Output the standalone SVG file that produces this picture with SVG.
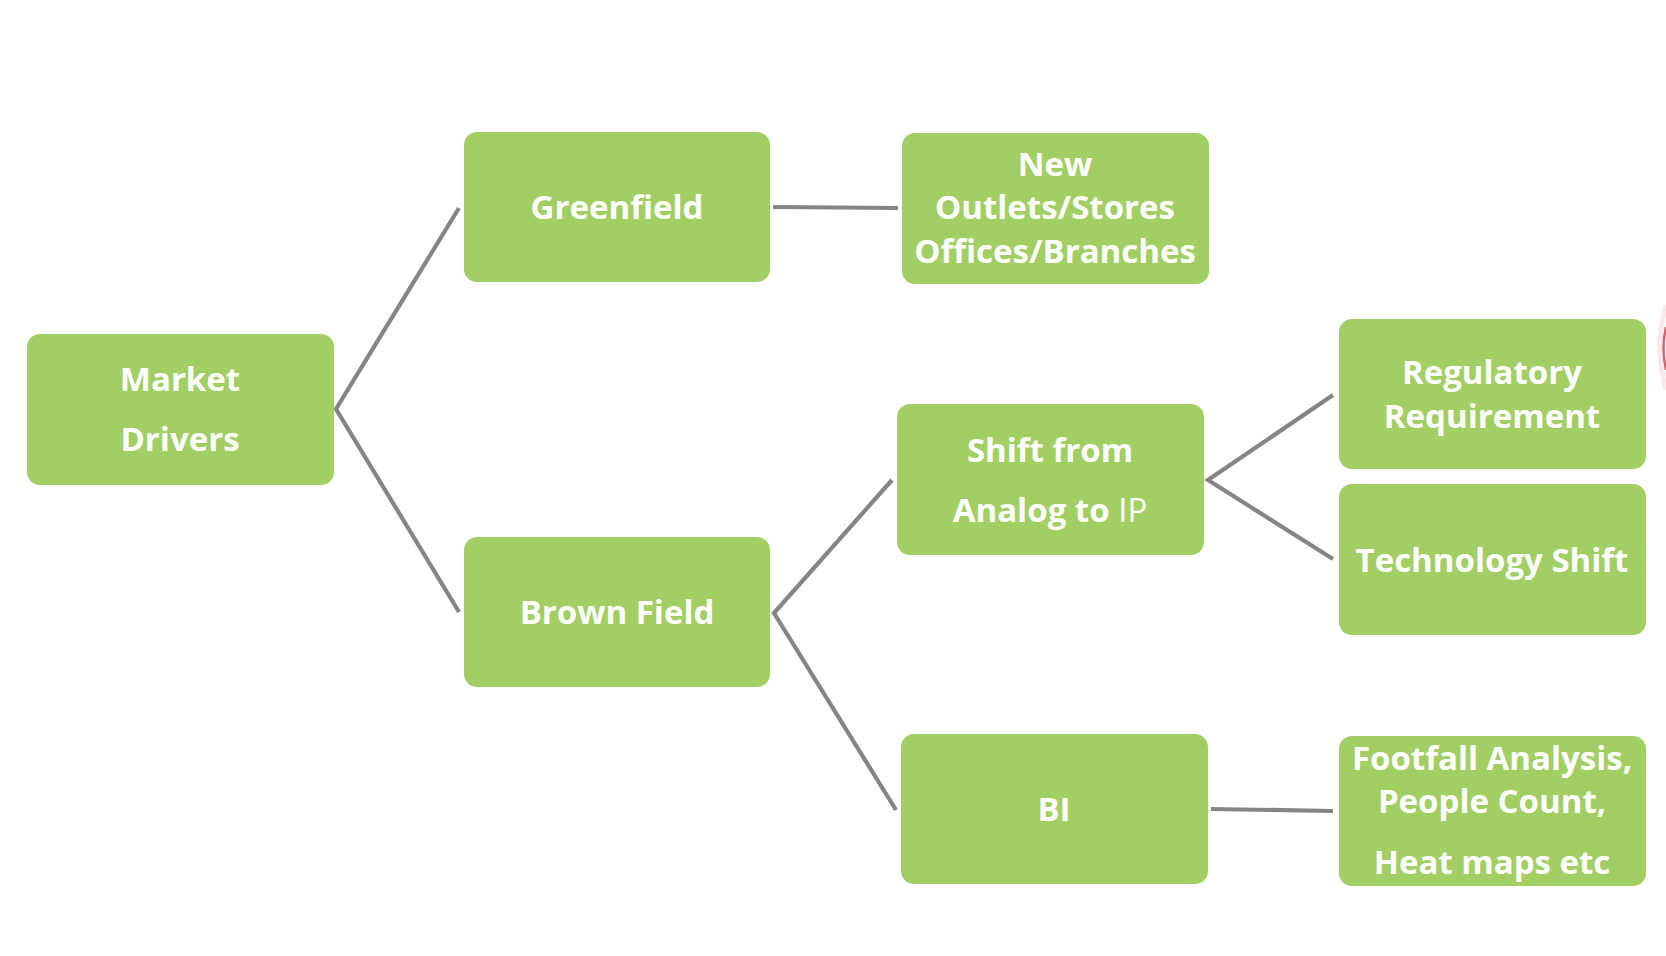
<svg xmlns="http://www.w3.org/2000/svg" width="1666" height="956" viewBox="0 0 1666 956">
<style>
.box{fill:#A1CF64;}
.t{font-family:"Open Sans","Noto Sans","Liberation Sans",sans-serif;font-weight:700;font-size:33px;fill:#FFFFFF;text-anchor:middle;}
.n{font-weight:400;}
.c{stroke:#858585;stroke-width:4.2;fill:none;stroke-linejoin:miter;}
</style>
<rect width="1666" height="956" fill="#FFFFFF"/>
<g id="connectors">
<polyline class="c" points="459,208 336,409 459,612"/>
<line class="c" x1="773" y1="207" x2="898" y2="208"/>
<polyline class="c" points="892,480 774,613 896,810"/>
<polyline class="c" points="1333,395 1208,480 1333,559"/>
<line class="c" x1="1211" y1="809" x2="1333" y2="811"/>
</g>
<g id="market-drivers">
<rect class="box" x="27" y="334" width="307" height="151" rx="13"/>
<text class="t" x="180" y="391">Market</text>
<text class="t" x="180" y="451">Drivers</text>
</g>
<g id="greenfield">
<rect class="box" x="464" y="132" width="306" height="150" rx="13"/>
<text class="t" x="617" y="219">Greenfield</text>
</g>
<g id="new-outlets">
<rect class="box" x="902" y="133" width="307" height="151" rx="13"/>
<text class="t" x="1055" y="176">New</text>
<text class="t" x="1055" y="219">Outlets/Stores</text>
<text class="t" x="1055" y="263">Offices/Branches</text>
</g>
<g id="brown-field">
<rect class="box" x="464" y="537" width="306" height="150" rx="13"/>
<text class="t" x="617" y="624">Brown Field</text>
</g>
<g id="shift-analog-ip">
<rect class="box" x="897" y="404" width="307" height="151" rx="13"/>
<text class="t" x="1050" y="462">Shift from</text>
<text class="t" x="1050" y="522">Analog to <tspan class="n">IP</tspan></text>
</g>
<g id="bi">
<rect class="box" x="901" y="734" width="307" height="150" rx="13"/>
<text class="t" x="1054" y="821">BI</text>
</g>
<g id="regulatory">
<rect class="box" x="1339" y="319" width="307" height="150" rx="13"/>
<text class="t" x="1492" y="384">Regulatory</text>
<text class="t" x="1492" y="428">Requirement</text>
</g>
<g id="technology-shift">
<rect class="box" x="1339" y="484" width="307" height="151" rx="13"/>
<text class="t" x="1492" y="572">Technology Shift</text>
</g>
<g id="footfall">
<rect class="box" x="1339" y="736" width="307" height="150" rx="13"/>
<text class="t" x="1492" y="770">Footfall Analysis,</text>
<text class="t" x="1492" y="813">People Count,</text>
<text class="t" x="1492" y="874">Heat maps etc</text>
</g>
<g id="edge-fragment">
<path d="M1666,305 Q1654,348 1666,390" fill="none" stroke="#F2D3D8" stroke-width="5" opacity="0.5"/>
<path d="M1666,327 Q1661,348 1666,370" fill="none" stroke="#C84A5A" stroke-width="2.5" opacity="0.85"/>
</g>
</svg>
